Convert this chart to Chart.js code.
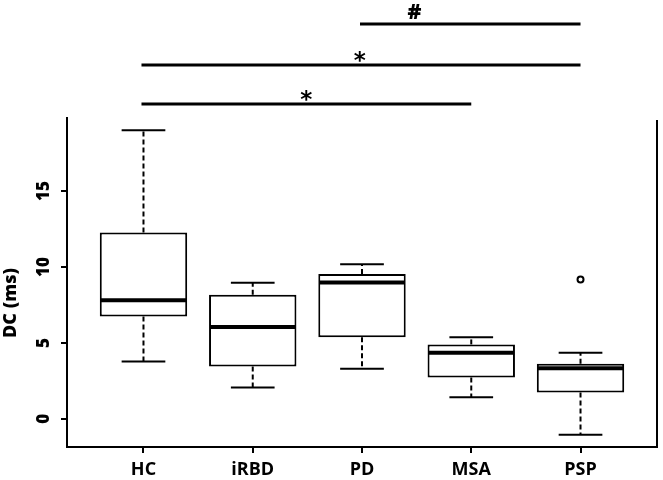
<!DOCTYPE html>
<html>
<head>
<meta charset="utf-8">
<script src="https://cdn.jsdelivr.net/npm/chart.js@4"></script>
<style>
  html, body { margin: 0; padding: 0; background: #fff; }
  #wrap { width: 663px; height: 480px; }
</style>
</head>
<body>
<div id="wrap"><canvas id="boxChart" width="663" height="480"></canvas></div>
<script>
const groups       = ['HC', 'iRBD', 'PD', 'MSA', 'PSP'];
const whiskLo      = [3.78, 2.06, 3.30, 1.42, -1.05];
const q1           = [6.74, 3.45, 5.38, 2.72, 1.73];
const medians      = [7.80, 6.04, 8.98, 4.35, 3.34];
const q3           = [12.26, 8.17, 9.53, 4.90, 3.63];
const whiskHi      = [19.0, 8.96, 10.17, 5.38, 4.35];
const outlierGroup = [5];
const outlierValue = [9.18];
const yTicks       = [0, 5, 10, 15];

// significance brackets, from group -> to group (1-based)
const sigFrom    = [3, 1, 1];
const sigTo      = [5, 5, 4];
const sigLabel   = ['#', '*', '*'];
const sigLabelAt = [3.48, 2.98, 2.49];

const FONT = "'Open Sans', 'Noto Sans', sans-serif";
const BLACK = '#000';

// ── whiskers, medians, brackets, extra border ────────────
const boxExtras = {
  id: 'boxExtras',
  afterDatasetsDraw(chart) {
    const { ctx, chartArea: area } = chart;
    const x = chart.scales.x, y = chart.scales.y;
    const unit = x.getPixelForValue(2) - x.getPixelForValue(1);
    const seg = (x1, y1, x2, y2) => {
      ctx.beginPath(); ctx.moveTo(x1, y1); ctx.lineTo(x2, y2); ctx.stroke();
    };

    ctx.save();
    ctx.strokeStyle = BLACK;
    ctx.lineCap = 'butt';

    groups.forEach((g, i) => {
      const cx = x.getPixelForValue(i + 1);
      ctx.lineWidth = 2;
      ctx.setLineDash([5, 3]);
      seg(cx, y.getPixelForValue(q3[i]), cx, y.getPixelForValue(whiskHi[i]));
      seg(cx, y.getPixelForValue(q1[i]), cx, y.getPixelForValue(whiskLo[i]));
      ctx.setLineDash([]);
      seg(cx - unit * 0.2, y.getPixelForValue(whiskHi[i]), cx + unit * 0.2, y.getPixelForValue(whiskHi[i]));
      seg(cx - unit * 0.2, y.getPixelForValue(whiskLo[i]), cx + unit * 0.2, y.getPixelForValue(whiskLo[i]));
      ctx.lineWidth = 4;
      seg(cx - unit * 0.4 + 1, y.getPixelForValue(medians[i]), cx + unit * 0.4 - 1, y.getPixelForValue(medians[i]));
    });

    // right frame line
    ctx.lineWidth = 2;
    seg(area.right, area.top + 2, area.right, area.bottom);

    // significance brackets above the plot
    const rowY = [area.top - 94, area.top - 53, area.top - 14];
    ctx.lineWidth = 3;
    ctx.fillStyle = BLACK;
    ctx.textAlign = 'center';
    ctx.textBaseline = 'alphabetic';
    sigLabel.forEach((lab, k) => {
      seg(x.getPixelForValue(sigFrom[k]) - 2, rowY[k], x.getPixelForValue(sigTo[k]), rowY[k]);
      if (lab === '*') {
        ctx.font = "bold 23px 'DejaVu Sans', sans-serif";
        ctx.fillText(lab, x.getPixelForValue(sigLabelAt[k]), rowY[k] + 3);
      } else {
        ctx.font = '800 21px ' + FONT;
        ctx.fillText(lab, x.getPixelForValue(sigLabelAt[k]), rowY[k] - 5);
      }
    });

    // y axis title
    ctx.font = '800 18px ' + FONT;
    ctx.translate(11, 303);
    ctx.rotate(-Math.PI / 2);
    ctx.textBaseline = 'middle';
    ctx.fillText('DC (ms)', 0, 0);
    ctx.restore();
  }
};

new Chart(document.getElementById('boxChart'), {
  type: 'bar',
  data: {
    datasets: [
      {
        type: 'bar',
        data: groups.map((g, i) => ({ x: i + 1, y: [q1[i], q3[i]] })),
        backgroundColor: '#fff',
        borderColor: BLACK,
        borderWidth: 2,
        borderSkipped: false,
        categoryPercentage: 1,
        barPercentage: 0.8,
        order: 2
      },
      {
        type: 'scatter',
        data: outlierGroup.map((g, k) => ({ x: g, y: outlierValue[k] })),
        pointRadius: 3,
        pointBorderWidth: 2,
        pointBorderColor: BLACK,
        pointBackgroundColor: '#fff',
        order: 1
      }
    ]
  },
  options: {
    responsive: false,
    animation: false,
    events: [],
    layout: { padding: { top: 118, right: 3, left: 0, bottom: 0 } },
    plugins: { legend: { display: false }, tooltip: { enabled: false } },
    scales: {
      x: {
        type: 'linear',
        min: 0.3,
        max: 5.7,
        offset: false,
        afterBuildTicks: s => { s.ticks = groups.map((g, i) => ({ value: i + 1 })); },
        afterFit: s => { s.height = 33; },
        grid: { drawOnChartArea: false, tickLength: 6, color: BLACK, lineWidth: 2, offset: false },
        border: { color: BLACK, width: 2 },
        ticks: {
          color: BLACK,
          padding: 6,
          maxRotation: 0,
          autoSkip: false,
          font: { family: FONT, size: 18, weight: 'bold' },
          callback: v => groups[v - 1]
        }
      },
      y: {
        min: -1.85,
        max: 19.8,
        afterBuildTicks: s => { s.ticks = yTicks.map(v => ({ value: v })); },
        afterFit: s => { s.width = 67; },
        grid: { drawOnChartArea: false, tickLength: 6, color: BLACK, lineWidth: 2 },
        border: { color: BLACK, width: 2 },
        ticks: {
          color: BLACK,
          padding: 7,
          minRotation: 90,
          maxRotation: 90,
          crossAlign: 'center',
          font: { family: FONT, size: 17, weight: '800' }
        }
      }
    }
  },
  plugins: [boxExtras]
});
</script>
</body>
</html>
